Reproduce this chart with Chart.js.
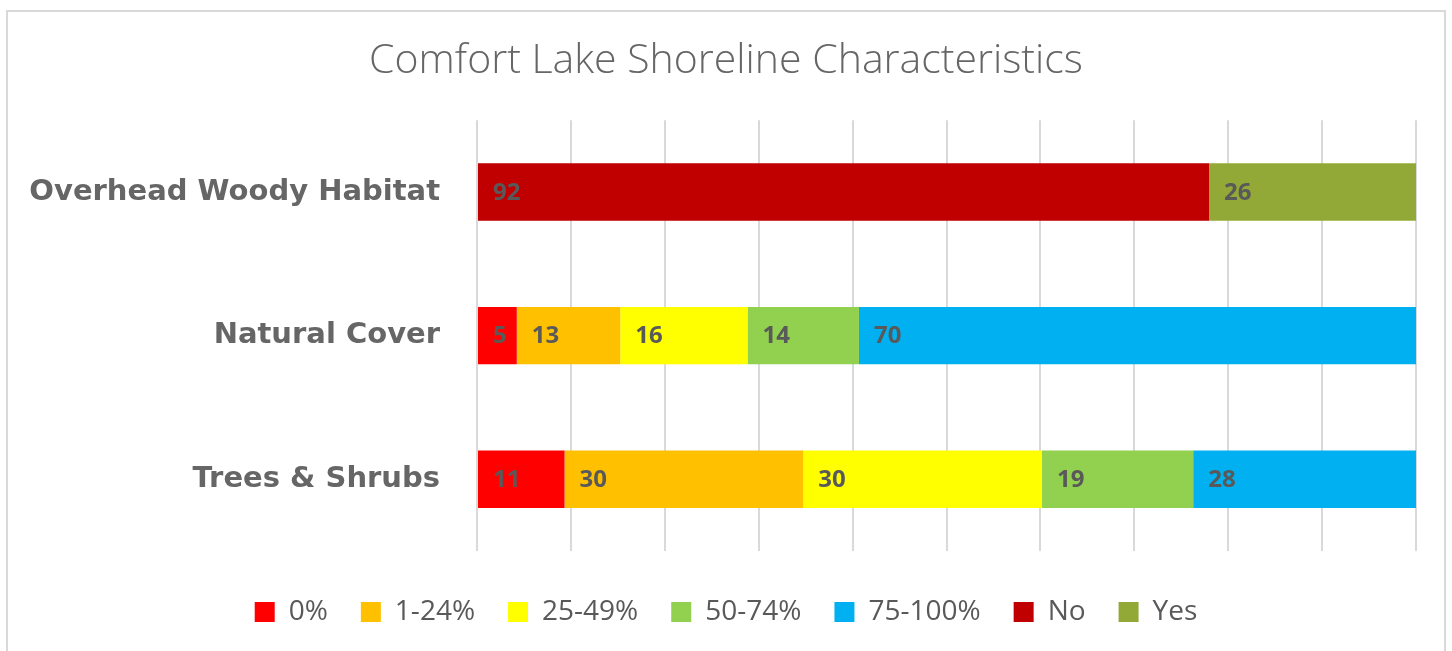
<!DOCTYPE html>
<html><head><meta charset="utf-8">
<script src="https://cdn.jsdelivr.net/npm/chart.js@4"></script>
<style>
html,body{margin:0;padding:0;background:#fff;overflow:hidden}
#wrap{position:relative;width:1452px;height:651px}
#frame{position:absolute;left:6px;top:10px;width:1440px;height:700px;border:2px solid #d9d9d9;box-sizing:border-box;pointer-events:none}
canvas{display:block}
</style></head><body>
<div id="wrap"><canvas id="c" width="1452" height="651" style="width:1452px;height:651px"></canvas><div id="frame"></div></div>
<script>
const categories = ['Overhead Woody Habitat', 'Natural Cover', 'Trees & Shrubs'];
const seriesNames = ['0%', '1-24%', '25-49%', '50-74%', '75-100%', 'No', 'Yes'];
const s0pct   = [null, 5, 11];
const s1to24  = [null, 13, 30];
const s25to49 = [null, 16, 30];
const s50to74 = [null, 14, 19];
const s75to100= [null, 70, 28];
const sNo     = [92, null, null];
const sYes    = [26, null, null];
const seriesValues = [s0pct, s1to24, s25to49, s50to74, s75to100, sNo, sYes];
const seriesColors = ['#FF0000', '#FFC000', '#FFFF00', '#92D050', '#00B0F0', '#C00000', '#93A937'];
const xTicks = [0, 10, 20, 30, 40, 50, 60, 70, 80, 90, 100];

const totals = categories.map((_, j) => seriesValues.reduce((a, s) => a + (s[j] || 0), 0));

const datasets = seriesNames.map((name, i) => ({
  label: name,
  data: seriesValues[i].map((v, j) => v == null ? null : v / totals[j] * 100),
  backgroundColor: seriesColors[i],
  borderWidth: 0,
  categoryPercentage: 0.4,
  barPercentage: 1.0,
  yAxisID: 'y'
}));

const labelPlugin = {
  id: 'vals',
  afterDatasetsDraw(chart) {
    const ctx = chart.ctx;
    ctx.save();
    ctx.font = 'bold 24px "Open Sans"';
    ctx.fillStyle = '#595959';
    ctx.textBaseline = 'middle';
    ctx.textAlign = 'left';
    chart.data.datasets.forEach((ds, i) => {
      const meta = chart.getDatasetMeta(i);
      meta.data.forEach((el, j) => {
        const raw = seriesValues[i][j];
        if (raw == null) return;
        const left = Math.min(el.x, el.base);
        ctx.fillText(String(raw), left + 15, el.y + 1);
      });
    });
    ctx.restore();
  }
};

new Chart(document.getElementById('c'), {
  type: 'bar',
  data: { labels: categories, datasets },
  plugins: [labelPlugin],
  options: {
    indexAxis: 'y',
    responsive: false,
    animation: false,
    layout: { padding: { left: 0, right: 0, top: 0, bottom: 15 } },
    plugins: {
      tooltip: { enabled: false },
      title: {
        display: true,
        text: 'Comfort Lake Shoreline Characteristics',
        color: '#666666',
        font: { family: 'Open Sans', size: 41, weight: '300' },
        padding: { top: 37, bottom: 34 }
      },
      legend: {
        position: 'bottom',
        labels: {
          boxWidth: 20, boxHeight: 20, padding: 33,
          color: '#595959',
          font: { family: 'Open Sans', size: 28 }
        }
      }
    },
    scales: {
      x: {
        stacked: true, min: 0, max: 100,
        afterBuildTicks(s) { s.ticks = xTicks.map(v => ({ value: v })); },
        afterFit(s) { s.height = 14; },
        ticks: { display: false },
        grid: { color: '#d9d9d9', lineWidth: 2, drawTicks: false },
        border: { display: false }
      },
      y: {
        stacked: true,
        position: 'left',
        afterFit(s) { s.width = 477; },
        ticks: {
          padding: 37,
          color: '#666666',
          font: { family: 'DejaVu Sans', size: 29, weight: 'bold' }
        },
        grid: { display: false, drawTicks: false },
        border: { display: false }
      },
      yRight: {
        type: 'category',
        position: 'right',
        afterFit(s) { s.width = 36; },
        ticks: { display: false },
        grid: { display: false, drawTicks: false },
        border: { display: false }
      }
    }
  }
});
</script>
</body></html>
